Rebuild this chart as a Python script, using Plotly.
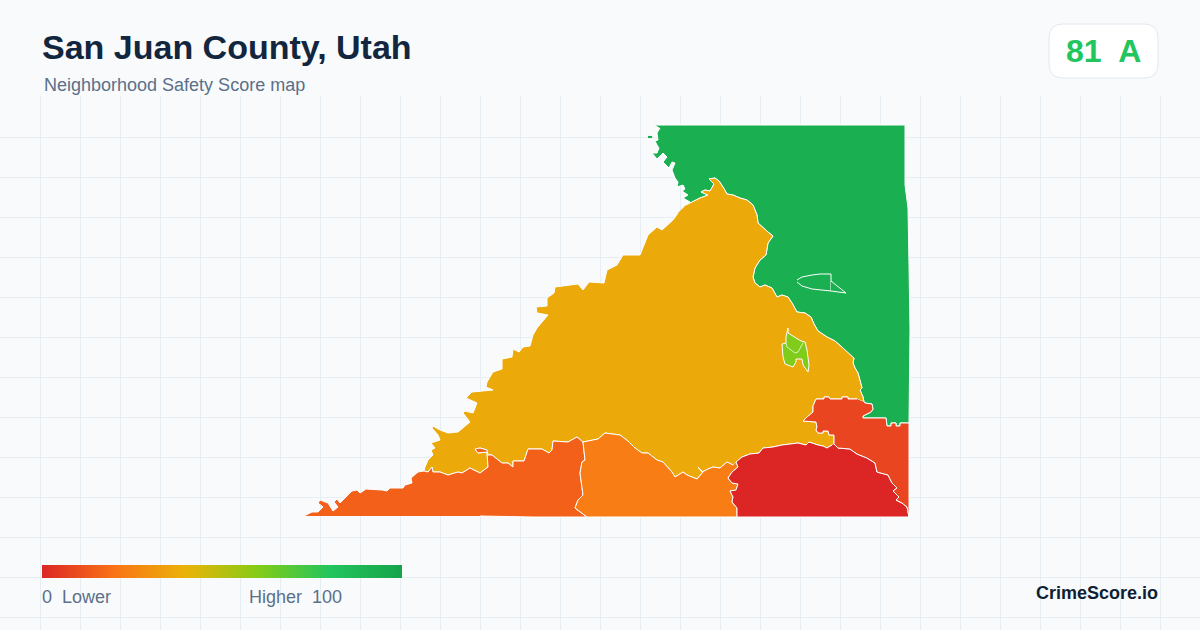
import plotly.graph_objects as go
from plotly.colors import sample_colorscale

title = "San Juan County, Utah"
subtitle = "Neighborhood Safety Score map"
score_text = "81  A"
brand = "CrimeScore.io"

# Score colour ramp, same one the legend bar shows
ramp = [[0.0, "#dc2626"], [0.2, "#f97316"], [0.4, "#eab308"],
        [0.6, "#84cc16"], [0.8, "#22c55e"], [1.0, "#16a34a"]]

# Tract scores (estimated from the fill colours)
score_north = 93
score_central = 37
score_town = 61
score_hole = 93
score_west = 15
score_south = 23
score_southeast = 0
score_east = 8

# Tract borders, shared borders kept once
north_outer = [(655, 125), (905, 125), (905, 185), (908, 208), (909, 265), (910, 330), (909, 423)]
north_east_border = [(900, 423), (900, 426), (896, 426), (896, 423), (891, 423), (891, 426), (887, 426),
                     (886, 418), (863, 418), (863, 416), (871, 412), (873, 409), (872, 404), (865, 403), (864, 402)]
north_central_border = [(686, 205), (690, 203), (700, 198), (708, 195), (701, 192), (705, 190), (710, 191),
                        (714, 184), (709, 179), (715, 178), (719, 181), (723, 187), (727, 194), (733, 195),
                        (740, 198), (747, 200), (753, 205), (757, 215), (758, 223), (768, 232), (773, 236),
                        (768, 243), (766, 255), (760, 260), (755, 268), (753, 277), (755, 283), (760, 287),
                        (765, 285), (772, 288), (777, 297), (782, 295), (788, 297), (792, 303), (797, 312),
                        (805, 313), (811, 317), (814, 324), (818, 331), (827, 337), (835, 341), (843, 348),
                        (850, 355), (854, 358), (853, 363), (855, 368), (858, 373), (862, 388), (860, 390),
                        (863, 397), (864, 402)]
north_coast = [(690, 202), (683, 198), (688, 195), (682, 191), (685, 189), (683, 185), (677, 187), (678, 182),
               (675, 178), (672, 170), (675, 163), (672, 162), (669, 168), (663, 162), (667, 157), (663, 153),
               (657, 159), (652, 153), (657, 153), (659, 148), (657, 145), (655, 141), (658, 140), (657, 133),
               (660, 128)]
north_islet = [(648, 136), (652, 136), (652, 138), (648, 138)]

central_east_border = [(857, 399), (848, 399), (848, 397), (842, 397), (842, 399), (830, 399), (829, 397),
                       (824, 397), (824, 399), (816, 399), (813, 406), (813, 412), (807, 417), (803, 421),
                       (816, 422), (817, 427), (816, 430), (818, 433), (823, 433), (823, 431), (828, 431),
                       (829, 435), (834, 435), (834, 444)]
central_southeast_border = [(832, 445), (827, 448), (823, 446), (818, 445), (809, 442), (806, 445), (798, 443),
                            (790, 444), (782, 445), (773, 447), (763, 448), (759, 453), (750, 454), (742, 457),
                            (736, 462)]
central_south_border = [(733, 465), (727, 462), (723, 465), (720, 468), (713, 467), (708, 469), (702, 472),
                        (698, 467), (703, 472), (697, 479), (692, 477), (687, 475), (683, 472), (675, 477),
                        (672, 472), (663, 462), (657, 460), (648, 453), (642, 453), (635, 448), (628, 441),
                        (620, 435), (605, 433), (598, 439), (583, 442)]
central_west_border = [(577, 437), (568, 442), (553, 441), (552, 450), (549, 453), (542, 449), (528, 449),
                       (524, 461), (513, 461), (513, 467), (508, 463), (502, 463), (492, 455), (488, 455),
                       (487, 450), (480, 448), (475, 449), (478, 453), (487, 452), (488, 467), (480, 473),
                       (470, 468), (462, 473), (458, 472), (448, 475), (440, 472), (433, 472), (432, 467),
                       (428, 472), (424, 471)]
central_coast = [(425, 467), (428, 460), (433, 455), (431, 450), (435, 448), (431, 443), (440, 440), (438, 435),
                 (432, 428), (433, 426), (440, 430), (448, 433), (458, 432), (470, 422), (463, 413), (465, 411),
                 (473, 413), (477, 403), (466, 398), (472, 392), (493, 390), (486, 387), (487, 382), (493, 372),
                 (502, 369), (502, 359), (512, 357), (513, 349), (519, 352), (523, 347), (530, 346), (533, 335),
                 (537, 328), (548, 315), (537, 313), (536, 307), (547, 306), (547, 298), (554, 293), (555, 287),
                 (578, 284), (583, 290), (589, 282), (604, 283), (607, 270), (617, 265), (623, 255), (640, 255),
                 (648, 235), (657, 227), (662, 230), (673, 220), (678, 213)]

west_coast = [(304, 516), (312, 512), (318, 512), (323, 507), (318, 503), (320, 500), (328, 503), (333, 511),
              (338, 507), (334, 502), (337, 499), (340, 503), (352, 491), (357, 490), (360, 493), (366, 489),
              (382, 490), (387, 491), (390, 488), (403, 488), (405, 485), (412, 483), (411, 478), (418, 472)]
west_south_border = [(585, 460), (582, 462), (580, 473), (583, 495), (578, 500), (575, 508), (587, 517)]
west_bottom = [(533, 517), (480, 516)]
south_southeast_border = [(738, 467), (732, 472), (728, 478), (732, 483), (738, 484), (736, 490), (730, 491),
                          (733, 497), (732, 502), (737, 508), (737, 517)]
southeast_east_border = [(838, 448), (850, 449), (857, 454), (867, 458), (875, 463), (877, 472), (888, 475),
                         (892, 483), (897, 488), (893, 491), (899, 497), (896, 500), (902, 503), (907, 507),
                         (908, 512), (909, 517)]

town_outline = [(788, 328), (787, 333), (786, 337), (786, 343), (782, 344), (783, 357), (785, 364), (793, 367),
                (796, 362), (796, 359), (802, 359), (803, 365), (808, 372), (809, 365), (807, 350), (805, 342),
                (801, 341), (788, 333), (788, 328)]
town_divider = [(786, 343), (787, 347), (795, 353), (798, 352), (803, 343)]
hole_outline = [(797, 280), (802, 277), (812, 275), (820, 274), (831, 274), (831, 291), (812, 289), (802, 286),
                (797, 282)]
hole_tip = [(831, 281), (842, 290), (846, 293), (831, 291)]


def rev(points):
    return points[::-1]


north = north_outer + north_east_border + rev(north_central_border) + north_coast
central = (north_central_border + central_east_border + central_southeast_border
           + central_south_border + central_west_border + central_coast)
east = (rev(north_east_border) + [(909, 423), (909, 517)] + rev(southeast_east_border) + [(834, 444)]
        + rev(central_east_border))
southeast = [(834, 444)] + southeast_east_border + rev(south_southeast_border) + [(736, 462)] + rev(central_southeast_border)
south = [(736, 462)] + south_southeast_border + [(587, 517)] + rev(west_south_border) + [(583, 442)] + rev(central_south_border)
west = west_coast + [(424, 471)] + rev(central_west_border) + [(583, 442)] + west_south_border + west_bottom


def tract(points, score, line_width=1):
    color = sample_colorscale(ramp, score / 100)[0]
    return go.Scatter(x=[p[0] for p in points], y=[p[1] for p in points], mode="lines", fill="toself",
                      fillcolor=color, line=dict(color="white" if line_width else color, width=line_width or 0.1),
                      hoverinfo="skip")


fig = go.Figure()
fig.add_trace(tract(north, score_north))
fig.add_trace(tract(north_islet, score_north, 0))
fig.add_trace(tract(central, score_central))
fig.add_trace(tract(west, score_west))
fig.add_trace(tract(south, score_south))
fig.add_trace(tract(southeast, score_southeast))
fig.add_trace(tract(east, score_east))
fig.add_trace(tract(town_outline, score_town))
fig.add_trace(tract(hole_outline, score_hole))
fig.add_trace(tract(hole_tip, score_hole))
fig.add_trace(go.Scatter(x=[p[0] for p in town_divider], y=[p[1] for p in town_divider], mode="lines",
                         line=dict(color="rgba(255,255,255,0.7)", width=1), hoverinfo="skip"))

# Empty trace, only here for the horizontal colour bar
fig.add_trace(go.Scatter(x=[None], y=[None], mode="markers", hoverinfo="skip",
                         marker=dict(color=[0], cmin=0, cmax=100, colorscale=ramp, showscale=True,
                                     colorbar=dict(orientation="h", lenmode="pixels", len=360, thickness=13,
                                                   thicknessmode="pixels", x=42 / 1200, xanchor="left",
                                                   y=1 - 578 / 630, yanchor="bottom", xpad=0, ypad=0,
                                                   outlinewidth=0, showticklabels=False, ticks=""))))


def label(text, x, y, size, color, bold=False, anchor="left"):
    fig.add_annotation(text=f"<b>{text}</b>" if bold else text, x=x / 1200, y=1 - y / 630, xref="paper", yref="paper",
                       xanchor=anchor, yanchor="middle", showarrow=False,
                       font=dict(family="Liberation Sans", size=size, color=color))


label(title, 40, 47, 34, "#12263f", bold=True)
label(subtitle, 42, 85, 18, "#5b7089")
label("0  Lower", 39.5, 597, 18, "#5b7089")
label("Higher  100", 246.5, 597, 18, "#5b7089")
label(brand, 1160, 593, 18, "#0f1f33", bold=True, anchor="right")

# Score badge
left, right, top, bottom, r = 1049, 1158, 24, 78, 14
X = lambda v: v / 1200
Y = lambda v: 1 - v / 630
fig.add_shape(type="path", xref="paper", yref="paper", fillcolor="white", line=dict(color="#e2e8f0", width=1),
              path=(f"M {X(left + r)} {Y(top)} L {X(right - r)} {Y(top)} Q {X(right)} {Y(top)} {X(right)} {Y(top + r)} "
                    f"L {X(right)} {Y(bottom - r)} Q {X(right)} {Y(bottom)} {X(right - r)} {Y(bottom)} "
                    f"L {X(left + r)} {Y(bottom)} Q {X(left)} {Y(bottom)} {X(left)} {Y(bottom - r)} "
                    f"L {X(left)} {Y(top + r)} Q {X(left)} {Y(top)} {X(left + r)} {Y(top)} Z"))
label(score_text, 1103.5, 51, 32, "#22c55e", bold=True, anchor="center")

fig.update_layout(
    width=1200, height=630, margin=dict(l=0, r=0, t=0, b=0), showlegend=False, hovermode=False,
    paper_bgcolor="#f8fafc", plot_bgcolor="#f8fafc",
)
fig.update_xaxes(range=[0, 1200], tick0=0, dtick=40, showgrid=True, gridcolor="#e6eef4", gridwidth=1,
                 zeroline=False, showticklabels=False, ticks="", fixedrange=True)
fig.update_yaxes(range=[630, 96], domain=[0, 534 / 630], tick0=97, dtick=40, showgrid=True, gridcolor="#e6eef4",
                 gridwidth=1, zeroline=False, showticklabels=False, ticks="", fixedrange=True)

fig.write_html("out.html", config={"displayModeBar": False}, post_script="document.body.style.margin='0'")
